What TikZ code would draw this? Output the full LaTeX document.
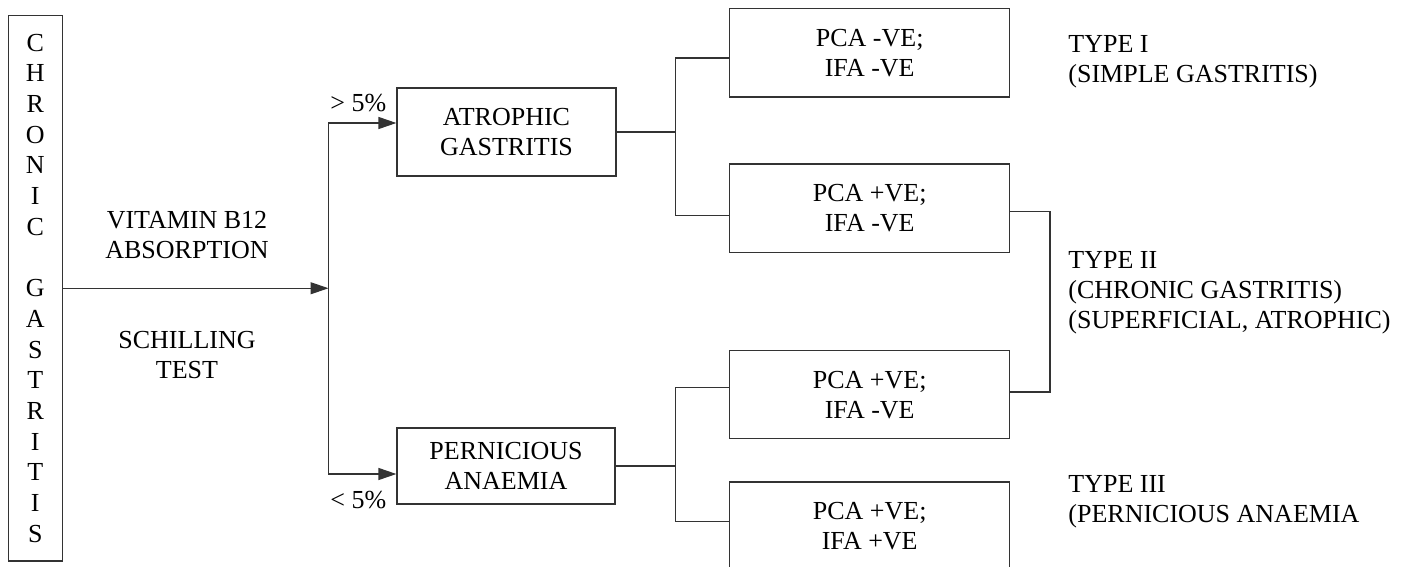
\documentclass[tikz,border=0pt]{standalone}
\usepackage{fontspec}
\setmainfont{Liberation Serif}
\usetikzlibrary{arrows.meta}
\begin{document}
\begin{tikzpicture}[x=0.5pt,y=-0.5pt,
  every node/.style={font=\fontsize{13}{15}\selectfont, text=black},
  line/.style={draw=black!80, line width=0.6pt},
  arr/.style={line, -{Triangle[length=9pt,width=6pt]}},
  box/.style={line, rectangle, inner sep=0pt, align=center},
  lbl/.style={inner sep=0pt, align=left, anchor=base west},
  clbl/.style={inner sep=0pt, align=center, anchor=base}]
\clip (0,0) rectangle (1407,567);
% left vertical box
\node[box, minimum width=27pt, minimum height=272.75pt,
      font=\fontsize{13}{15.35}\selectfont] (cg) at (35.3,288.25)
  {C\\H\\R\\O\\N\\I\\C\\[0pt]~\\G\\A\\S\\T\\R\\I\\T\\I\\S};
\coordinate (split) at (328.5,288.25);
% middle boxes
\node[box, minimum width=109.5pt, minimum height=44pt] (atro) at (506.5,132) {ATROPHIC\\GASTRITIS};
\node[box, minimum width=109pt, minimum height=38pt] (pern) at (506,466) {PERNICIOUS\\ANAEMIA};
% right boxes
\node[box, minimum width=140pt, minimum height=44.15pt] (b1) at (869.7,52.85) {PCA -VE;\\IFA -VE};
\node[box, minimum width=140pt, minimum height=44.35pt] (b2) at (869.7,208.35) {PCA +VE;\\IFA -VE};
\node[box, minimum width=140pt, minimum height=44pt] (b3) at (869.7,394.7) {PCA +VE;\\IFA -VE};
\node[box, minimum width=140pt, minimum height=44pt] (b4) at (869.7,526) {PCA +VE;\\IFA +VE};
% labels (base anchor = baseline of the last line)
\node[clbl] (vit) at (187,258.3) {VITAMIN B12\\ABSORPTION};
\node[clbl] (sch) at (187,378) {SCHILLING\\TEST};
\node[lbl] (gt) at (330,112) {> 5\%};
\node[lbl] (lt) at (330,508) {< 5\%};
\node[lbl] (t1) at (1068,82.3) {TYPE I\\(SIMPLE GASTRITIS)};
\node[lbl] (t2) at (1068,328) {TYPE II\\(CHRONIC GASTRITIS)\\(SUPERFICIAL, ATROPHIC)};
\node[lbl] (t3) at (1068,522) {TYPE III\\(PERNICIOUS ANAEMIA};
% connectors
\draw[arr] (cg.east) -- (split);
\draw[arr] (split) |- ([yshift=4.5pt]atro.west);
\draw[arr] (split) |- ([yshift=-4pt]pern.west);
\coordinate (j1) at (675.7,132);
\coordinate (j2) at (675.7,466);
\coordinate (j3) at (1050,300);
\draw[line] (atro.east) -- (j1);
\draw[line] ([yshift=-2.6pt]b1.west) -| (j1) |- ([yshift=-3.7pt]b2.west);
\draw[line] (pern.east) -- (j2);
\draw[line] ([yshift=3.7pt]b3.west) -| (j2) |- ([yshift=2.15pt]b4.west);
\draw[line] ([yshift=-1.7pt]b2.east) -| (j3) |- ([yshift=1.35pt]b3.east);
\end{tikzpicture}
\end{document}
